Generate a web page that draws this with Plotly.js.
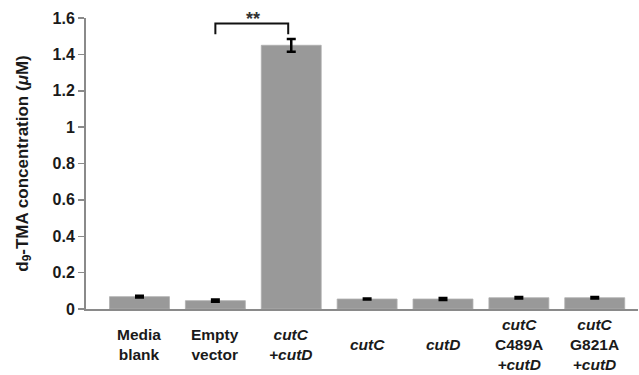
<!DOCTYPE html>
<html><head><meta charset="utf-8">
<script src="https://cdn.plot.ly/plotly-3.0.1.min.js"></script>
<style>html,body{margin:0;padding:0;background:#fff}</style>
</head><body><div id="chart" style="width:639px;height:375px"></div>
<script>
const categories = ["Media<br>blank", "Empty<br>vector", "<i>cutC</i><br><i>+cutD</i>", "<i>cutC</i>", "<i>cutD</i>", "<i>cutC</i><br>C489A<br><i>+cutD</i>", "<i>cutC</i><br>G821A<br><i>+cutD</i>"];
const values = [0.068, 0.046, 1.45, 0.055, 0.055, 0.062, 0.062];
const errors = [0.005, 0.006, 0.035, 0.003, 0.005, 0.004, 0.004];
const yTicks = [0, 0.2, 0.4, 0.6, 0.8, 1, 1.2, 1.4, 1.6];
const yTickLabels = ["0", "0.2", "0.4", "0.6", "0.8", "1", "1.2", "1.4", "1.6"];
const sigPair = [1, 2];
const sigY = 1.57, sigLeg = 1.51;

const xs = categories.map((c, i) => i);
const fontFam = "Arial, 'Liberation Sans', sans-serif";
const H = 375, T = 18, B = 66;
const plotH = H - T - B;
const labelCenterPx = 344;

const annotations = categories.map((c, i) => ({
  x: i, xref: 'x', y: -(labelCenterPx - (H - B)) / plotH, yref: 'paper', yanchor: 'middle', xanchor: 'center',
  text: '<b>' + c.split('<br>').join('</b><br><b>') + '</b>', showarrow: false,
  font: {family: fontFam, size: 15.5, color: '#1a1a1a'}
}));
annotations.push({
  x: (sigPair[0] + sigPair[1]) / 2, xref: 'x', y: sigY, yref: 'y', yanchor: 'bottom',
  text: '<b>**</b>', showarrow: false, font: {family: fontFam, size: 18, color: '#333'}, yshift: -8
});

const data = [{
  type: 'bar', x: xs, y: values,
  marker: {color: '#999999', line: {color: '#b0b0b0', width: 0.8}},
  width: 0.79,
  error_y: {type: 'data', array: errors, visible: true, color: '#000', thickness: 2.5, width: 4.5}
}];

const layout = {
  width: 639, height: 375,
  margin: {l: 86, r: 1, t: T, b: B},
  paper_bgcolor: '#fff', plot_bgcolor: '#fff',
  showlegend: false,
  xaxis: {
    range: [-0.705, 6.57], showticklabels: false, ticks: '', showgrid: false, zeroline: false,
    showline: true, linecolor: '#8a8a8a', linewidth: 2
  },
  yaxis: {
    range: [0, 1.6], tickvals: yTicks, ticktext: yTickLabels.map(t => '<b>' + t + '</b>'), showgrid: false, zeroline: false,
    showline: true, linecolor: '#8a8a8a', linewidth: 2,
    ticks: 'outside', ticklen: 6, tickcolor: '#8a8a8a', tickwidth: 1.5,
    tickfont: {family: fontFam, size: 16, color: '#1a1a1a'},
    title: {text: '<b>d<sub>9</sub>-TMA concentration (<i>μ</i>M)</b>', font: {family: fontFam, size: 17, color: '#1a1a1a'}, standoff: 20}
  },
  annotations: annotations,
  shapes: [{
    type: 'path', xref: 'x', yref: 'y',
    path: `M ${sigPair[0]} ${sigLeg} L ${sigPair[0]} ${sigY} L ${sigPair[1]-0.04} ${sigY} L ${sigPair[1]-0.04} ${sigLeg}`,
    line: {color: '#111', width: 2}
  }]
};

Plotly.newPlot('chart', data, layout, {displayModeBar: false, staticPlot: true});
</script></body></html>
